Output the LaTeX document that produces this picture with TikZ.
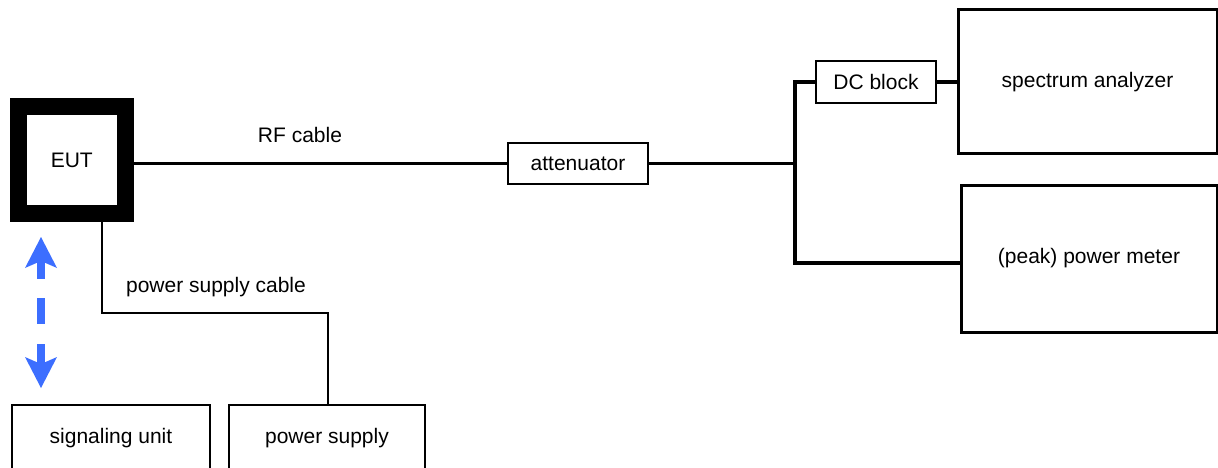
\documentclass[tikz,border=0pt]{standalone}
\usepackage{fontspec}
\setmainfont{Liberation Sans}
\definecolor{arrowblue}{RGB}{60,110,255}
\begin{document}
\begin{tikzpicture}[x=1pt,y=-1pt,
  every node/.style={font=\fontsize{21}{25}\selectfont},
  box/.style={draw,rectangle,inner sep=0pt,line width=2.5pt},
  wire/.style={line width=3.5pt},
  thinwire/.style={line width=2.5pt}]
\useasboundingbox (0,0) rectangle (1218,468);
% nodes
\node[box,line width=17pt,minimum width=106.5pt,minimum height=106.5pt] (eut) at (71.75,160.25) {EUT};
\node[box,minimum width=140pt,minimum height=41pt] (att) at (578,163.5) {attenuator};
\node[box,minimum width=120pt,minimum height=42pt] (dc) at (876,82) {DC block};
\node[box,line width=3pt,minimum width=259pt,minimum height=144pt] (sa) at (1087.5,82) {spectrum analyzer};
\node[box,line width=3pt,minimum width=256pt,minimum height=147pt] (pm) at (1089,258.5) {(peak) power meter};
\node[box,line width=2pt,minimum width=198pt,minimum height=66pt] (su) at (111,438) {signaling unit};
\node[box,line width=2pt,minimum width=196pt,minimum height=66pt] (ps) at (327,438) {power supply};
% labels
\node (rf) at (300,135) {RF cable};
\node (psc) at (216,287) {power supply cable};
% coordinates
\coordinate (jt) at (795,82);
\coordinate (jb) at (795,263);
\coordinate (pc) at (102,313);
\coordinate (pc2) at (328,313);
% connectors
\draw[thinwire] (eut.east |- att) -- (att.west);
\draw[wire] (att.east) -- (att.east -| jt);
\draw[wire,line join=miter] (dc.west) -- (jt) -- (jb) -- (pm.west |- jb);
\draw[wire] (dc.east) -- (sa.west |- dc.east);
\draw[thinwire,line join=miter] (eut.south -| pc) -- (pc) -- (pc2) -- (ps.north -| pc2);
% blue double arrow (dashed)
\fill[arrowblue] (41,237) -- (57,268) -- (41,261) -- (25,268) -- cycle;
\fill[arrowblue] (37,260) rectangle (45,279);
\fill[arrowblue] (37,298) rectangle (45,324);
\fill[arrowblue] (37,344) rectangle (45,365);
\fill[arrowblue] (41,388) -- (57,357) -- (41,364) -- (25,357) -- cycle;
\end{tikzpicture}
\end{document}
